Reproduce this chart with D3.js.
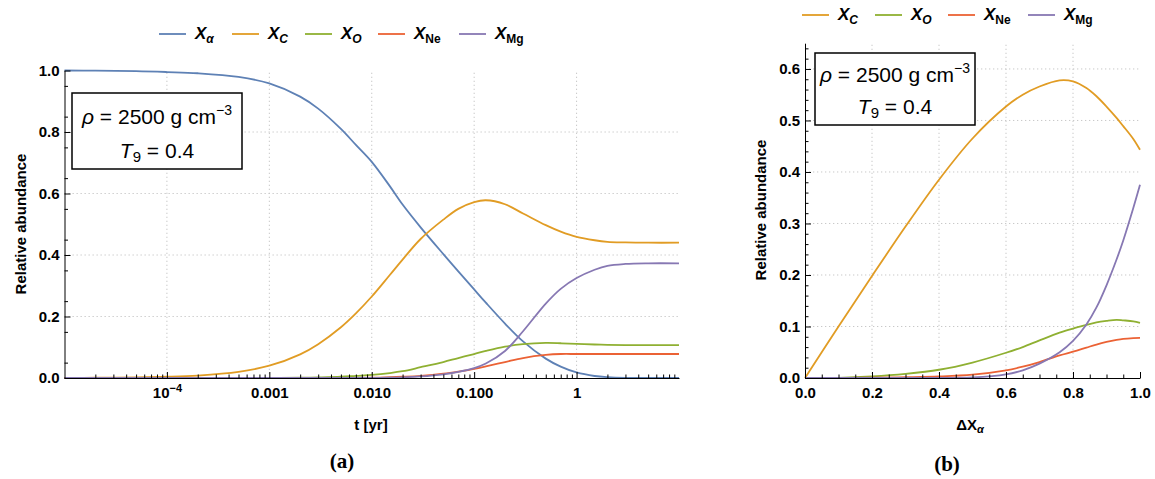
<!DOCTYPE html>
<html><head><meta charset="utf-8">
<script src="https://cdn.jsdelivr.net/npm/d3@7"></script>
<style>body{margin:0;background:#fff}svg{display:block}</style>
</head><body><svg id="c" width="1155" height="479"></svg>
<script>
// ---------- DATA ----------
const seriesKeys = ["alpha", "C", "O", "Ne", "Mg"];
const seriesColors = {alpha: "#5E81B5", C: "#E19C24", O: "#8FB032", Ne: "#EB6235", Mg: "#8778B3"};

// panel (a): abundance vs time [yr]
const timeYr = [1e-5, 2e-5, 5e-5, 1e-4, 2e-4, 5e-4, 1e-3, 2e-3, 3e-3, 5e-3, 7e-3, 0.01, 0.015, 0.02, 0.03, 0.05, 0.07, 0.1, 0.13, 0.2, 0.3, 0.5, 0.7, 1, 1.5, 2, 3, 5, 10];
const aAlpha = [1.0, 0.9995, 0.998, 0.995, 0.991, 0.979, 0.958, 0.915, 0.876, 0.81, 0.758, 0.703, 0.624, 0.564, 0.49, 0.403, 0.347, 0.288, 0.245, 0.177, 0.119, 0.063, 0.037, 0.018, 0.0065, 0.0027, 0.0005, 0, 0];
const aC     = [0.0004, 0.0008, 0.002, 0.004, 0.008, 0.02, 0.04, 0.077, 0.11, 0.165, 0.21, 0.265, 0.335, 0.385, 0.452, 0.515, 0.55, 0.572, 0.578, 0.565, 0.535, 0.497, 0.476, 0.459, 0.448, 0.443, 0.441, 0.44, 0.44];
const aO     = [0, 0, 0, 0, 0, 0.0001, 0.0003, 0.001, 0.002, 0.004, 0.007, 0.01, 0.016, 0.022, 0.035, 0.052, 0.065, 0.078, 0.088, 0.102, 0.11, 0.114, 0.113, 0.111, 0.109, 0.108, 0.107, 0.107, 0.107];
const aNe    = [0, 0, 0, 0, 0, 0, 0, 0, 0, 0.0003, 0.0006, 0.001, 0.0025, 0.004, 0.007, 0.014, 0.021, 0.03, 0.038, 0.052, 0.065, 0.075, 0.078, 0.078, 0.078, 0.078, 0.078, 0.078, 0.078];
const aMg    = [0, 0, 0, 0, 0, 0, 0, 0, 0, 0, 0.0002, 0.0005, 0.001, 0.002, 0.005, 0.012, 0.02, 0.032, 0.047, 0.088, 0.152, 0.242, 0.29, 0.325, 0.352, 0.365, 0.371, 0.373, 0.373];

// panel (b): abundance vs ΔXα
const deltaXAlpha = [0, 0.1, 0.2, 0.3, 0.4, 0.5, 0.6, 0.65, 0.7, 0.76, 0.8, 0.84, 0.87, 0.9, 0.93, 0.95, 0.98, 1.0];
const bC  = [0, 0.1, 0.198, 0.294, 0.385, 0.465, 0.527, 0.55, 0.566, 0.578, 0.576, 0.563, 0.547, 0.527, 0.505, 0.489, 0.464, 0.443];
const bO  = [0, 0.0003, 0.003, 0.008, 0.016, 0.03, 0.049, 0.06, 0.073, 0.088, 0.096, 0.103, 0.108, 0.111, 0.113, 0.112, 0.11, 0.107];
const bNe = [0, 0, 0.0005, 0.0015, 0.003, 0.0065, 0.015, 0.022, 0.031, 0.044, 0.051, 0.059, 0.065, 0.07, 0.074, 0.076, 0.0775, 0.078];
const bMg = [0, 0, 0, 0, 0, 0.001, 0.007, 0.015, 0.028, 0.05, 0.072, 0.104, 0.137, 0.18, 0.23, 0.267, 0.33, 0.375];

const aTickValsX = [1e-4, 1e-3, 1e-2, 1e-1, 1];
const aTickLabelsX = ["10^-4", "0.001", "0.010", "0.100", "1"];
const aTickValsY = [0, 0.2, 0.4, 0.6, 0.8, 1.0];
const bTickValsX = [0, 0.2, 0.4, 0.6, 0.8, 1.0];
const bTickValsY = [0, 0.1, 0.2, 0.3, 0.4, 0.5, 0.6];

// ---------- DRAW ----------
const svg = d3.select("#c");
const SANS = "'Liberation Sans', Arial, sans-serif";
const GRID = "#c8c8c8";

function drawPanel(o) {
  const g = svg.append("g");
  const x = o.x, y = o.y;
  const [x0, x1] = x.range(), [y0, y1] = y.range();
  // grid
  g.append("g").selectAll("line").data(o.gridX).join("line")
    .attr("x1", d => x(d)).attr("x2", d => x(d)).attr("y1", y0).attr("y2", y1)
    .attr("stroke", GRID).attr("stroke-width", 1).attr("stroke-dasharray", "1.3,2.7");
  g.append("g").selectAll("line").data(o.gridY).join("line")
    .attr("x1", x0).attr("x2", x1).attr("y1", d => y(d)).attr("y2", d => y(d))
    .attr("stroke", GRID).attr("stroke-width", 1).attr("stroke-dasharray", "1.3,2.7");
  // curves
  const line = d3.line().x(d => x(d[0])).y(d => y(Math.max(0, d[1]))).curve(d3.curveCatmullRom.alpha(0.5));
  o.series.forEach(s => {
    g.append("path").datum(o.xs.map((v, i) => [v, s.vals[i]]))
      .attr("fill", "none").attr("stroke", seriesColors[s.key]).attr("stroke-width", 1.8)
      .attr("d", line);
  });
  // minor axes
  g.append("g").attr("transform", `translate(0,${y0})`)
    .call(d3.axisBottom(x).tickValues(o.minorX).tickSize(-3.5).tickFormat(""))
    .call(a => a.select(".domain").remove());
  g.append("g").attr("transform", `translate(${x0},0)`)
    .call(d3.axisLeft(y).tickValues(o.minorY).tickSize(-3.5).tickFormat(""))
    .call(a => a.select(".domain").remove());
  // major axes
  const ax = g.append("g").attr("transform", `translate(0,${y0})`)
    .call(d3.axisBottom(x).tickValues(o.majorX).tickSize(-6).tickPadding(9).tickSizeOuter(0).tickFormat(o.fmtX));
  const ay = g.append("g").attr("transform", `translate(${x0},0)`)
    .call(d3.axisLeft(y).tickValues(o.majorY).tickSize(-6).tickPadding(5).tickSizeOuter(0).tickFormat(d3.format(".1f")));
  [ax, ay].forEach(a => {
    a.selectAll("text").attr("font-family", SANS).attr("font-weight", "bold").attr("font-size", 15).attr("fill", "#000");
    a.select(".domain").attr("stroke", "#000").attr("stroke-width", 1);
  });
  g.selectAll(".tick line").attr("stroke", "#000").attr("stroke-width", 1);
  return {g, ax, ay};
}

// panel (a)
const xa = d3.scaleLog().domain([1e-5, 10]).range([64.5, 679]);
const ya = d3.scaleLinear().domain([0, 1]).range([378, 70.5]);
const minorXa = [];
for (let e = -5; e <= 0; e++) for (let m = 2; m <= 9; m++) minorXa.push(m * Math.pow(10, e));
const pa = drawPanel({
  x: xa, y: ya, xs: timeYr,
  series: [{key: "alpha", vals: aAlpha}, {key: "C", vals: aC}, {key: "O", vals: aO}, {key: "Ne", vals: aNe}, {key: "Mg", vals: aMg}],
  gridX: aTickValsX, gridY: [0.2, 0.4, 0.6, 0.8],
  majorX: aTickValsX, minorX: minorXa,
  majorY: aTickValsY, minorY: d3.range(0.05, 1, 0.1),
  fmtX: (d, i) => aTickLabelsX[i]
});
pa.ax.selectAll(".tick text").each(function(d, i) {
  const lab = aTickLabelsX[i];
  if (lab.indexOf("^") >= 0) {
    const [b, p] = lab.split("^");
    const t = d3.select(this).text("");
    t.append("tspan").text(b);
    t.append("tspan").attr("dy", -6).attr("font-size", 11).text(p.replace("-", "\u2212"));
  }
});

// panel (b)
const xb = d3.scaleLinear().domain([0, 1]).range([805, 1140]);
const yb = d3.scaleLinear().domain([0, 0.65]).range([378, 43.2]);
drawPanel({
  x: xb, y: yb, xs: deltaXAlpha,
  series: [{key: "C", vals: bC}, {key: "O", vals: bO}, {key: "Ne", vals: bNe}, {key: "Mg", vals: bMg}],
  gridX: [0.2, 0.4, 0.6, 0.8], gridY: [0.1, 0.2, 0.3, 0.4, 0.5, 0.6],
  majorX: bTickValsX, minorX: d3.range(0.05, 1, 0.05).filter(v => Math.abs(v * 5 - Math.round(v * 5)) > 1e-6),
  majorY: bTickValsY, minorY: d3.range(0.02, 0.65, 0.02).filter(v => Math.abs(v * 10 - Math.round(v * 10)) > 1e-6),
  fmtX: d3.format(".1f")
});

// axis titles
function yTitle(cx, cy) {
  svg.append("text").attr("transform", `translate(${cx},${cy}) rotate(-90)`)
    .attr("text-anchor", "middle").attr("font-family", SANS).attr("font-weight", "bold").attr("font-size", 15)
    .text("Relative abundance");
}
yTitle(26, 224);
yTitle(766, 210);
svg.append("text").attr("x", 371).attr("y", 430).attr("text-anchor", "middle")
  .attr("font-family", SANS).attr("font-weight", "bold").attr("font-size", 15).text("t [yr]");
{
  const t = svg.append("text").attr("x", 970).attr("y", 430).attr("text-anchor", "middle")
    .attr("font-family", SANS).attr("font-weight", "bold").attr("font-size", 15);
  t.append("tspan").text("\u0394X");
  t.append("tspan").attr("dy", 3).attr("font-size", 11).attr("font-style", "italic").text("\u03b1");
}
// captions
svg.append("text").attr("x", 342).attr("y", 468).attr("text-anchor", "middle")
  .attr("font-family", "'Liberation Serif', 'DejaVu Serif', serif").attr("font-weight", "bold").attr("font-size", 21).text("(a)");
svg.append("text").attr("x", 947).attr("y", 471).attr("text-anchor", "middle")
  .attr("font-family", "'Liberation Serif', 'DejaVu Serif', serif").attr("font-weight", "bold").attr("font-size", 21).text("(b)");

// info boxes
function infoBox(x0, y0, w, h, b1, b2) {
  svg.append("rect").attr("x", x0).attr("y", y0).attr("width", w).attr("height", h)
    .attr("fill", "#fff").attr("stroke", "#000").attr("stroke-width", 1.5);
  const cx = x0 + w / 2;
  const t1 = svg.append("text").attr("x", cx).attr("y", b1).attr("text-anchor", "middle")
    .attr("font-family", SANS).attr("font-size", 21);
  t1.append("tspan").attr("font-style", "italic").text("\u03c1");
  t1.append("tspan").text(" = 2500 g cm");
  t1.append("tspan").attr("dy", -9).attr("font-size", 14).text("\u22123");
  const t2 = svg.append("text").attr("x", cx).attr("y", b2).attr("text-anchor", "middle")
    .attr("font-family", SANS).attr("font-size", 21);
  t2.append("tspan").attr("font-style", "italic").text("T");
  t2.append("tspan").attr("dy", 4).attr("font-size", 15).text("9");
  t2.append("tspan").attr("dy", -4).text(" = 0.4");
}
infoBox(72, 93, 170, 76, 124, 158);
infoBox(815, 53, 160, 72, 82, 114);

// legends
const legendLabels = {alpha: ["\u03b1", true], C: ["C", true], O: ["O", true], Ne: ["Ne", false], Mg: ["Mg", false]};
function legend(items, y) {
  items.forEach(it => {
    svg.append("line").attr("x1", it.x).attr("x2", it.x + 27).attr("y1", y).attr("y2", y)
      .attr("stroke", seriesColors[it.key]).attr("stroke-width", 1.8);
    const t = svg.append("text").attr("x", it.x + 36).attr("y", y + 5)
      .attr("font-family", SANS).attr("font-weight", "bold").attr("font-size", 17);
    t.append("tspan").attr("font-style", "italic").text("X");
    const [s, ital] = legendLabels[it.key];
    t.append("tspan").attr("dy", 4).attr("font-size", 12).attr("font-style", ital ? "italic" : "normal").text(s);
  });
}
legend([{key: "alpha", x: 159}, {key: "C", x: 232}, {key: "O", x: 305}, {key: "Ne", x: 378}, {key: "Mg", x: 459}], 34);
legend([{key: "C", x: 802}, {key: "O", x: 875}, {key: "Ne", x: 948}, {key: "Mg", x: 1028}], 15);
</script>
</body></html>
